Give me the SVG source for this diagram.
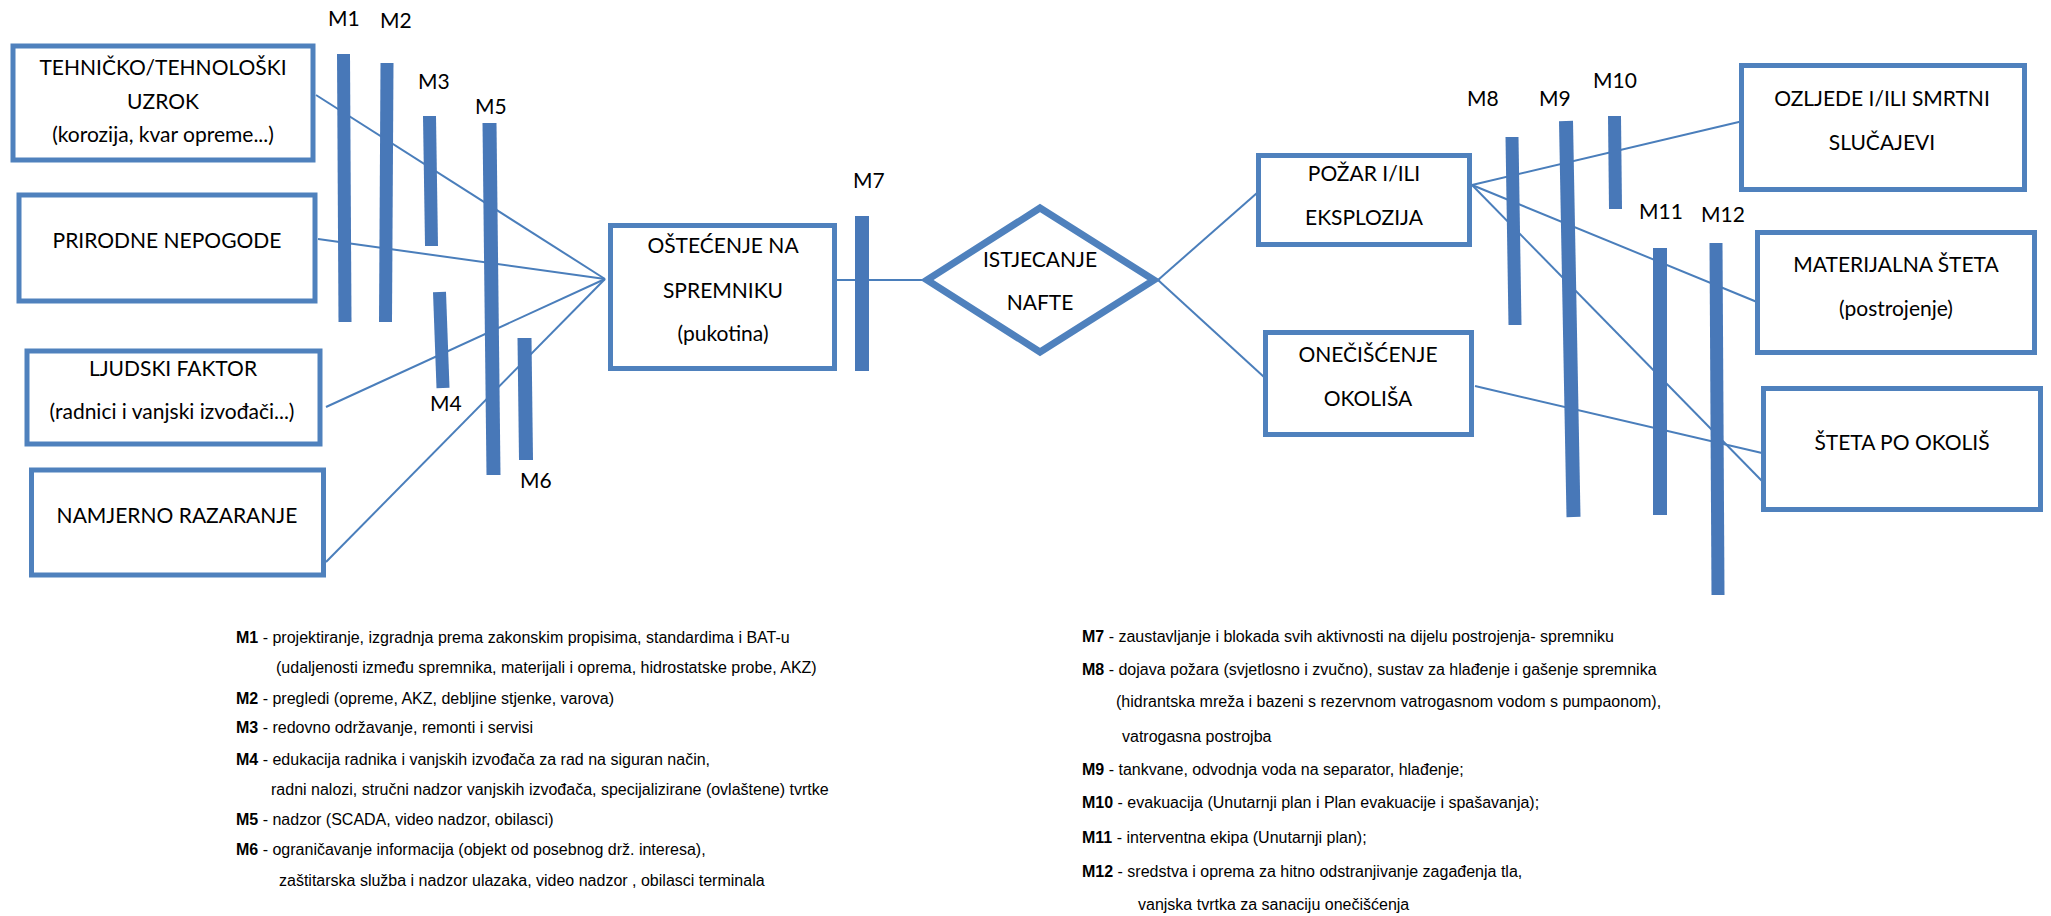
<svg xmlns="http://www.w3.org/2000/svg" width="2051" height="916" viewBox="0 0 2051 916">
<style>
.box{fill:#fff;stroke:#4F81BD;stroke-width:5}
.dia{fill:#fff;stroke:#4F81BD;stroke-width:7;stroke-linejoin:miter}
.bar{stroke:#4878B8;stroke-linecap:butt}
.ln{stroke:#4A7EBB;stroke-width:2;fill:none}
.t{font-family:Lato,"Liberation Sans",sans-serif;font-size:21px;fill:#000;text-anchor:middle}
.m{font-family:Lato,"Liberation Sans",sans-serif;font-size:21px;fill:#000}
.lg{font-family:"Liberation Sans",Arial,sans-serif;font-size:16px;fill:#000}
.b{font-weight:bold}
</style>
<rect width="2051" height="916" fill="#fff"/>
<g id="connectors">
<line class="ln" x1="316" y1="95" x2="605" y2="279"/>
<line class="ln" x1="318" y1="239" x2="605" y2="279"/>
<line class="ln" x1="326" y1="407" x2="605" y2="279"/>
<line class="ln" x1="326" y1="562" x2="605" y2="279"/>
<line class="ln" x1="837" y1="280" x2="922" y2="280"/>
<line class="ln" x1="1158" y1="280" x2="1257" y2="193"/>
<line class="ln" x1="1158" y1="280" x2="1264" y2="377"/>
<line class="ln" x1="1472" y1="185" x2="1743" y2="121"/>
<line class="ln" x1="1472" y1="185" x2="1757" y2="302"/>
<line class="ln" x1="1472" y1="185" x2="1762" y2="481"/>
<line class="ln" x1="1475" y1="386" x2="1762" y2="453"/>
</g>
<g id="n-tehnicko"><rect class="box" x="13" y="46" width="300" height="114"/>
<text class="t" x="163" y="75">TEHNIČKO/TEHNOLOŠKI</text><text class="t" x="163" y="109">UZROK</text><text class="t" x="163" y="142">(korozija, kvar opreme...)</text></g>
<g id="n-prirodne"><rect class="box" x="19" y="195" width="296" height="106"/>
<text class="t" x="167" y="248">PRIRODNE NEPOGODE</text></g>
<g id="n-ljudski"><rect class="box" x="27" y="351" width="293" height="93"/>
<text class="t" x="173" y="376">LJUDSKI FAKTOR</text><text class="t" x="172" y="419">(radnici i vanjski izvođači...)</text></g>
<g id="n-namjerno"><rect class="box" x="31.5" y="470" width="292" height="105"/>
<text class="t" x="177" y="523">NAMJERNO RAZARANJE</text></g>
<g id="n-ostecenje"><rect class="box" x="610.5" y="225.5" width="224" height="143"/>
<text class="t" x="723" y="253">OŠTEĆENJE NA</text><text class="t" x="723" y="298">SPREMNIKU</text><text class="t" x="723" y="341">(pukotina)</text></g>
<g id="n-istjecanje"><polygon class="dia" points="927,280 1040,208 1154,280 1040,352"/>
<text class="t" x="1040" y="267">ISTJECANJE</text><text class="t" x="1040" y="310">NAFTE</text></g>
<g id="n-pozar"><rect class="box" x="1258.5" y="155.5" width="211" height="89"/>
<text class="t" x="1364" y="181">POŽAR I/ILI</text><text class="t" x="1364" y="225">EKSPLOZIJA</text></g>
<g id="n-oneciscenje"><rect class="box" x="1265.5" y="332.5" width="206" height="102"/>
<text class="t" x="1368" y="362">ONEČIŠĆENJE</text><text class="t" x="1368" y="406">OKOLIŠA</text></g>
<g id="n-ozljede"><rect class="box" x="1741.5" y="65.5" width="283" height="124"/>
<text class="t" x="1882" y="106">OZLJEDE I/ILI SMRTNI</text><text class="t" x="1882" y="150">SLUČAJEVI</text></g>
<g id="n-materijalna"><rect class="box" x="1757.5" y="232.5" width="277" height="120"/>
<text class="t" x="1896" y="272">MATERIJALNA ŠTETA</text><text class="t" x="1896" y="316">(postrojenje)</text></g>
<g id="n-steta"><rect class="box" x="1763.5" y="388.5" width="277" height="121"/>
<text class="t" x="1902" y="450">ŠTETA PO OKOLIŠ</text></g>
<g id="barriers">
<line class="bar" stroke-width="13" x1="343.5" y1="54" x2="345" y2="322"/>
<line class="bar" stroke-width="13" x1="387" y1="63" x2="385.5" y2="322"/>
<line class="bar" stroke-width="13" x1="429.5" y1="116" x2="431.5" y2="246"/>
<line class="bar" stroke-width="13" x1="439.5" y1="292" x2="443" y2="388"/>
<line class="bar" stroke-width="14" x1="489.5" y1="123" x2="493.5" y2="475"/>
<line class="bar" stroke-width="14" x1="524.5" y1="338" x2="526" y2="460"/>
<line class="bar" stroke-width="14" x1="862" y1="216" x2="862" y2="371"/>
<line class="bar" stroke-width="13" x1="1512" y1="137" x2="1515" y2="325"/>
<line class="bar" stroke-width="14" x1="1566" y1="121" x2="1573.5" y2="517"/>
<line class="bar" stroke-width="13" x1="1614.5" y1="116" x2="1615.5" y2="209"/>
<line class="bar" stroke-width="14" x1="1660" y1="248" x2="1660" y2="515"/>
<line class="bar" stroke-width="13" x1="1716" y1="243" x2="1718" y2="595"/>
<text class="m" x="328" y="26">M1</text>
<text class="m" x="380" y="28">M2</text>
<text class="m" x="418" y="89">M3</text>
<text class="m" x="475" y="114">M5</text>
<text class="m" x="430" y="411">M4</text>
<text class="m" x="520" y="488">M6</text>
<text class="m" x="853" y="188">M7</text>
<text class="m" x="1467" y="106">M8</text>
<text class="m" x="1539" y="106">M9</text>
<text class="m" x="1593" y="88">M10</text>
<text class="m" x="1639" y="219">M11</text>
<text class="m" x="1701" y="222">M12</text>
</g>
<g id="legend-left" class="lg">
<text x="236" y="643"><tspan class="b">M1</tspan> - projektiranje, izgradnja prema zakonskim propisima, standardima i BAT-u</text>
<text x="276" y="673">(udaljenosti između spremnika, materijali i oprema, hidrostatske probe, AKZ)</text>
<text x="236" y="704"><tspan class="b">M2</tspan> - pregledi (opreme, AKZ, debljine stjenke, varova)</text>
<text x="236" y="733"><tspan class="b">M3</tspan> - redovno održavanje, remonti i servisi</text>
<text x="236" y="765"><tspan class="b">M4</tspan> - edukacija radnika i vanjskih izvođača za rad na siguran način,</text>
<text x="271" y="795">radni nalozi, stručni nadzor vanjskih izvođača, specijalizirane (ovlaštene) tvrtke</text>
<text x="236" y="825"><tspan class="b">M5</tspan> - nadzor (SCADA, video nadzor, obilasci)</text>
<text x="236" y="855"><tspan class="b">M6</tspan> - ograničavanje informacija (objekt od posebnog drž. interesa),</text>
<text x="279" y="886">zaštitarska služba i nadzor ulazaka, video nadzor , obilasci terminala</text>
</g>
<g id="legend-right" class="lg">
<text x="1082" y="642"><tspan class="b">M7</tspan> - zaustavljanje i blokada svih aktivnosti na dijelu postrojenja- spremniku</text>
<text x="1082" y="675"><tspan class="b">M8</tspan> - dojava požara (svjetlosno i zvučno), sustav za hlađenje i gašenje spremnika</text>
<text x="1116" y="707">(hidrantska mreža i bazeni s rezervnom vatrogasnom vodom s pumpaonom),</text>
<text x="1122" y="742">vatrogasna postrojba</text>
<text x="1082" y="775"><tspan class="b">M9</tspan> - tankvane, odvodnja voda na separator, hlađenje;</text>
<text x="1082" y="808"><tspan class="b">M10</tspan> - evakuacija (Unutarnji plan i Plan evakuacije i spašavanja);</text>
<text x="1082" y="843"><tspan class="b">M11</tspan> - interventna ekipa (Unutarnji plan);</text>
<text x="1082" y="877"><tspan class="b">M12</tspan> - sredstva i oprema za hitno odstranjivanje zagađenja tla,</text>
<text x="1138" y="910">vanjska tvrtka za sanaciju onečišćenja</text>
</g>
</svg>
